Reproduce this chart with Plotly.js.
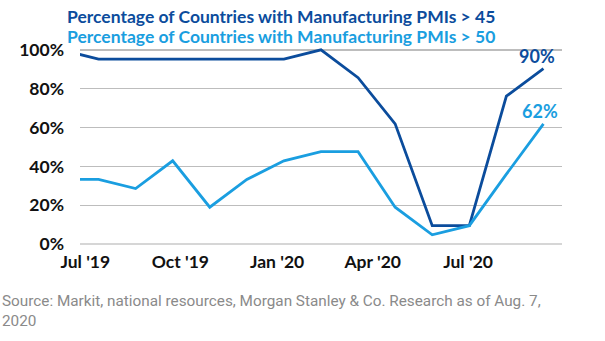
<!DOCTYPE html>
<html>
<head>
<meta charset="utf-8">
<script src="https://cdn.plot.ly/plotly-3.0.1.min.js"></script>
<style>html,body{margin:0;padding:0;background:#fff;}#chart{width:605px;height:341px;}</style>
</head>
<body>
<div id="chart"></div>
<script>
// Months (Jun '19 is partly outside the visible range, as in the original)
const months = ["Jun '19","Jul '19","Aug '19","Sep '19","Oct '19","Nov '19","Dec '19","Jan '20","Feb '20","Mar '20","Apr '20","May '20","Jun '20","Jul '20"];
// Percentage of countries with manufacturing PMI > 45
const pmiAbove45 = [100, 95.2, 95.2, 95.2, 95.2, 95.2, 95.2, 100, 85.7, 61.9, 9.5, 9.5, 76.2, 90.4];
// Percentage of countries with manufacturing PMI > 50
const pmiAbove50 = [33.3, 33.3, 28.6, 42.9, 19.0, 33.3, 42.9, 47.6, 47.6, 19.0, 4.8, 9.5, 36.0, 61.9];
const tickLabels = ["Jul '19","Oct '19","Jan '20","Apr '20","Jul '20"];
const yTicks = [0, 20, 40, 60, 80, 100];
const yTickLabels = ["0%", "20%", "40%", "60%", "80%", "100%"];

const idx = months.map((m, i) => i);
const W = 605, H = 341;
const mL = 80, mR = 43.3, mT = 46.1, mB = 92.8;
const pw = W - mL - mR, ph = H - mT - mB;
const px = x => (x - mL) / pw;
const py = y => (H - mB - y) / ph;

const dark = '#0b4c9c', light = '#1a9ee0';

const traces = [
  {x: idx, y: pmiAbove45, text: months, mode: 'lines', line: {color: dark, width: 2.8}, hoverinfo: 'text+y'},
  {x: idx, y: pmiAbove50, text: months, mode: 'lines', line: {color: light, width: 2.8}, hoverinfo: 'text+y'}
];

const last = months.length - 1;
const tickFont = {family: 'Lato, sans-serif', size: 17.5, weight: 'bold', color: '#111'};
const layout = {
  width: W, height: H,
  margin: {l: mL, r: mR, t: mT, b: mB, pad: 0},
  paper_bgcolor: '#fff', plot_bgcolor: '#fff',
  showlegend: false,
  font: {family: 'Lato, "Open Sans", sans-serif', color: '#111'},
  xaxis: {
    range: [0.5, 13.5], showgrid: false, zeroline: false, showline: false,
    tickmode: 'array', tickvals: [0.643, 3.207, 5.817, 8.395, 10.967], ticktext: tickLabels,
    tickfont: tickFont, ticks: '', ticklabelstandoff: 1
  },
  yaxis: {
    range: [-2, 102], tickmode: 'array', tickvals: yTicks, ticktext: yTickLabels,
    showgrid: true, gridcolor: '#bdbdbd', gridwidth: 1.5,
    zeroline: true, zerolinecolor: '#d6d6d6', zerolinewidth: 1.5, showline: false,
    tickfont: tickFont, ticks: '', ticklabelstandoff: 15
  },
  annotations: [
    {xref: 'paper', yref: 'paper', x: px(65.5), y: py(17), xanchor: 'left', yanchor: 'middle', showarrow: false,
     text: 'Percentage of Countries with Manufacturing PMIs > 45', font: {family: 'Lato, sans-serif', size: 17.5, weight: 'bold', color: dark}},
    {xref: 'paper', yref: 'paper', x: px(65.5), y: py(37), xanchor: 'left', yanchor: 'middle', showarrow: false,
     text: 'Percentage of Countries with Manufacturing PMIs > 50', font: {family: 'Lato, sans-serif', size: 17.5, weight: 'bold', color: light}},
    {xref: 'x', yref: 'y', x: idx[last], y: pmiAbove45[last], xshift: -6.5, yshift: 12.5, showarrow: false,
     text: Math.round(pmiAbove45[last]) + '%', font: {family: 'Lato, sans-serif', size: 18, weight: 'bold', color: dark}},
    {xref: 'x', yref: 'y', x: idx[last], y: pmiAbove50[last], xshift: -3.3, yshift: 12.5, showarrow: false,
     text: Math.round(pmiAbove50[last]) + '%', font: {family: 'Lato, sans-serif', size: 18, weight: 'bold', color: light}},
    {xref: 'paper', yref: 'paper', x: px(0), y: py(311), xanchor: 'left', yanchor: 'middle', align: 'left', showarrow: false,
     text: 'Source: Markit, national resources, Morgan Stanley &amp; Co. Research as of Aug. 7,<br>2020',
     font: {family: '"Liberation Sans Narrow", "Roboto", sans-serif', size: 15.3, color: '#8a8a8a'}}
  ]
};

Plotly.newPlot('chart', traces, layout, {displayModeBar: false, staticPlot: true});
</script>
</body>
</html>
